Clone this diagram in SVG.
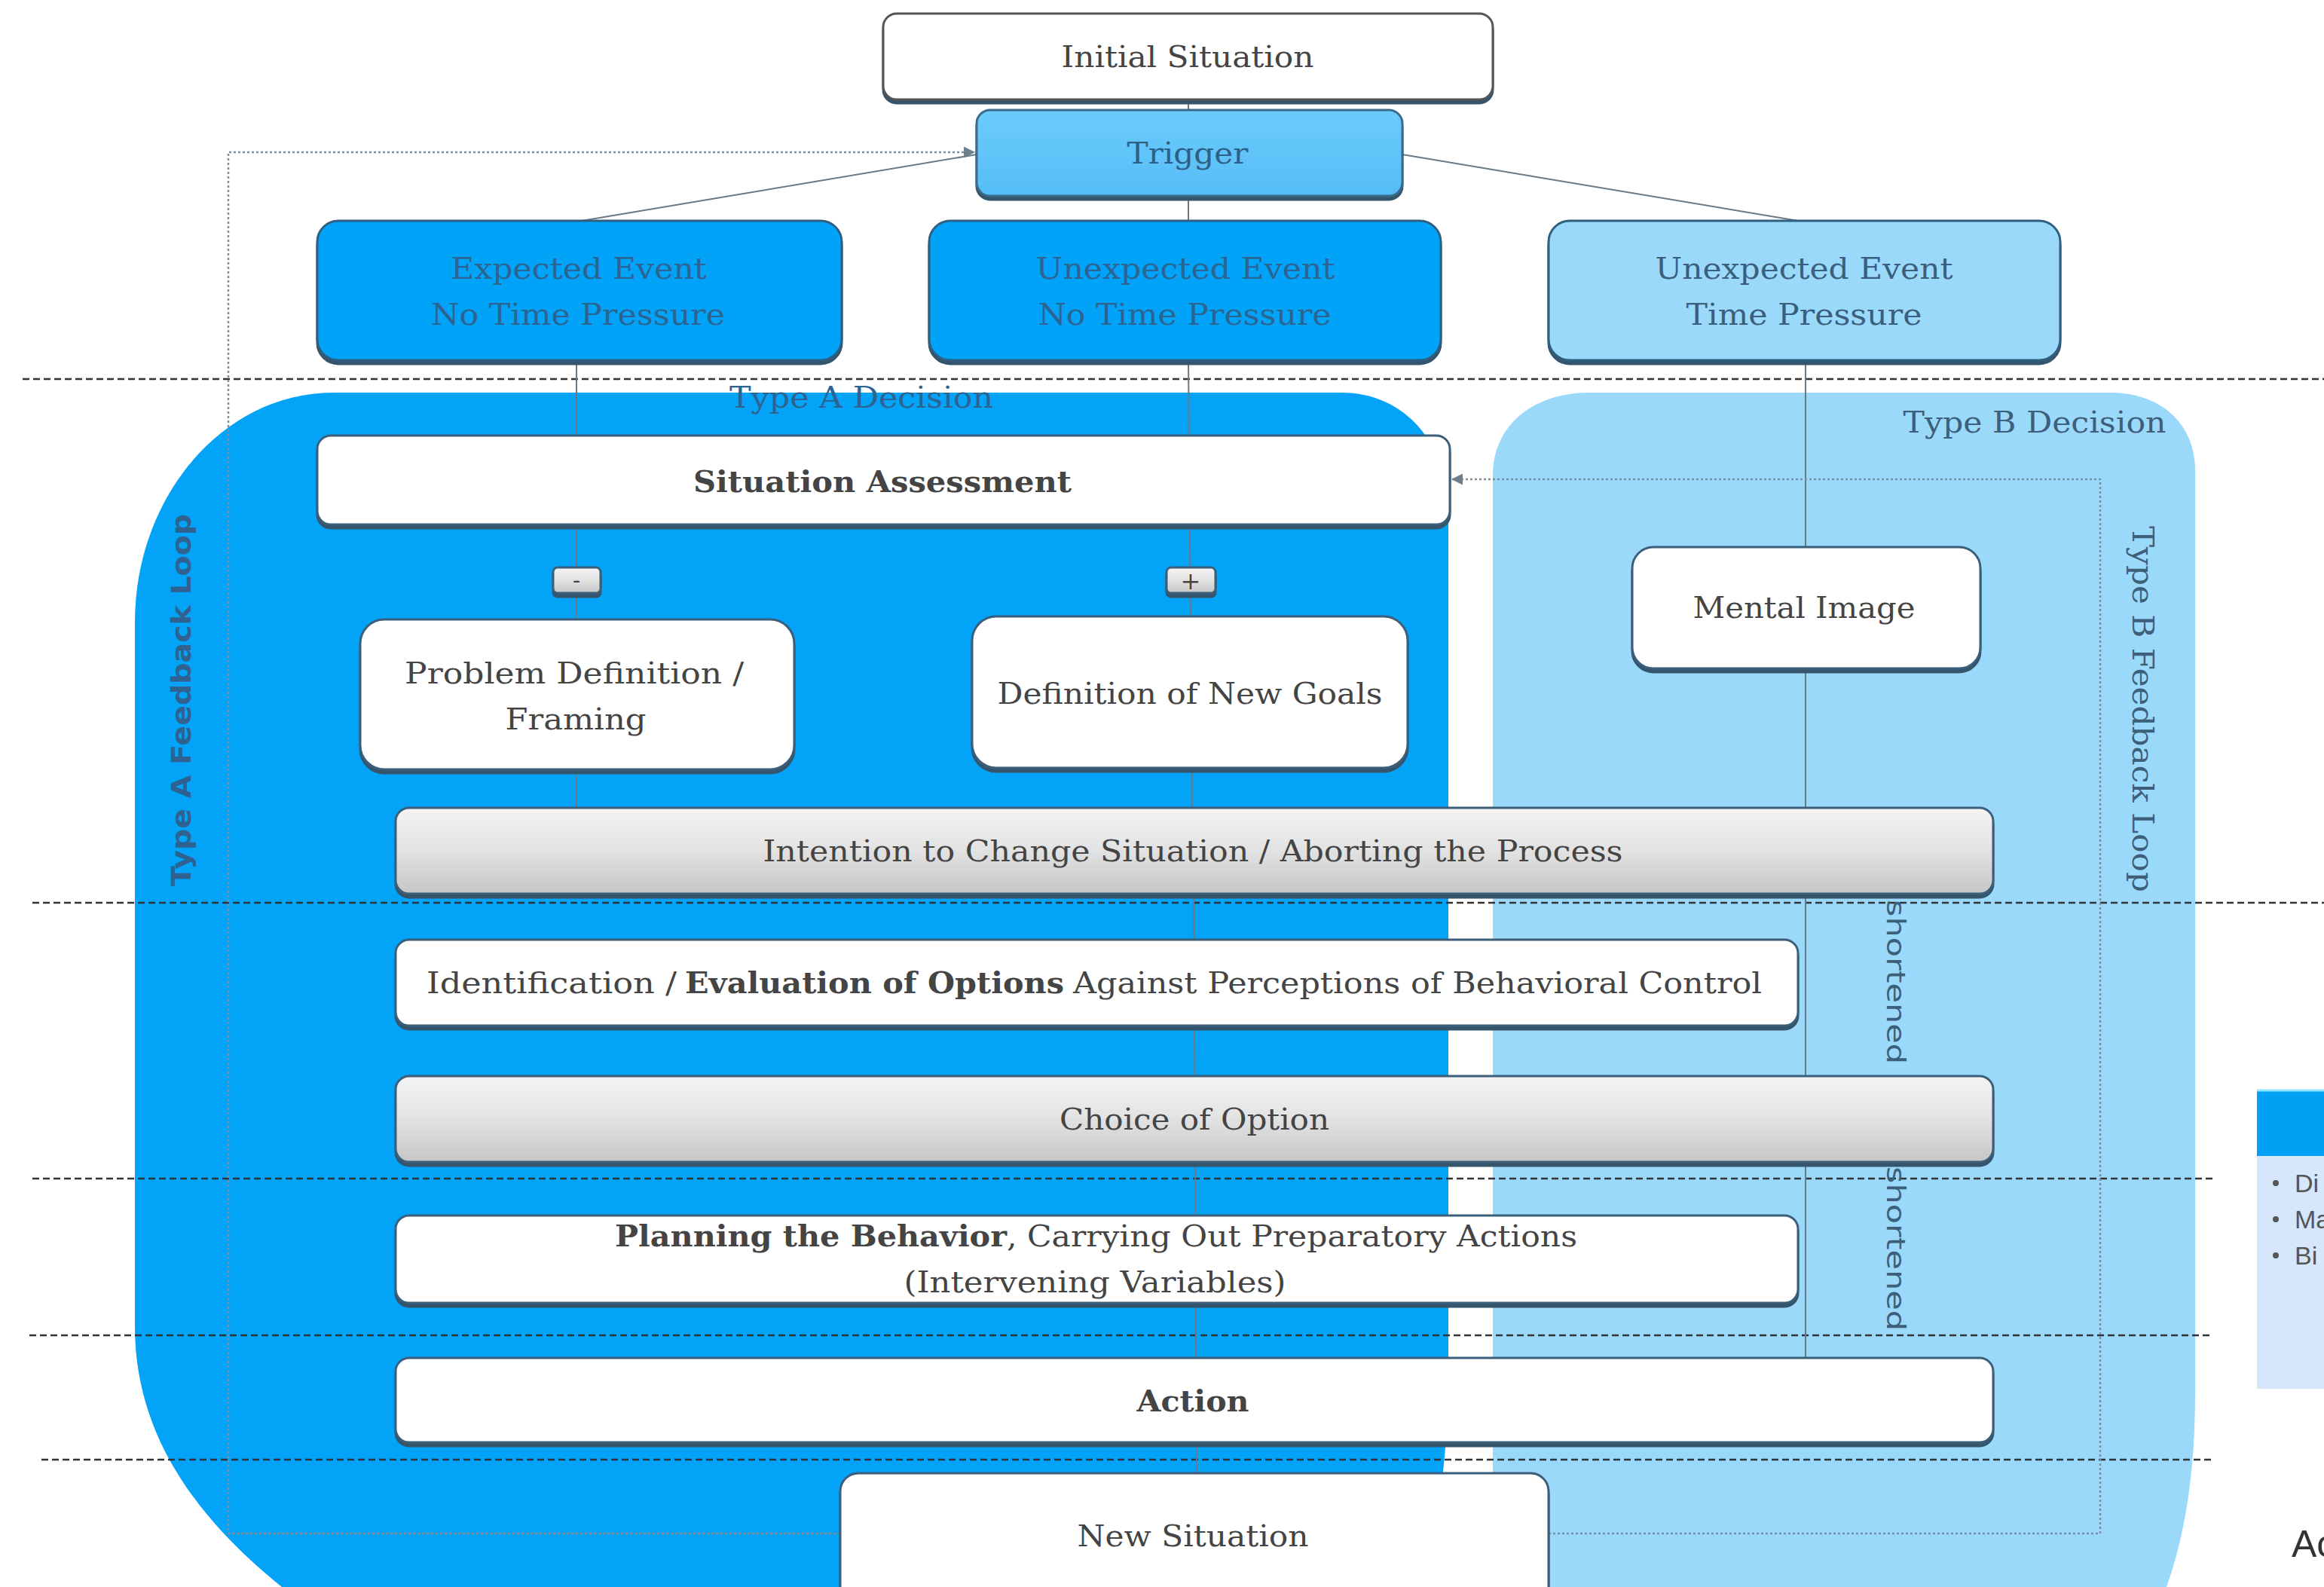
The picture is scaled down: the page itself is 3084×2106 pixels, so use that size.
<svg xmlns="http://www.w3.org/2000/svg" width="3084" height="2106" viewBox="0 0 3084 2106">
<defs>
<style>
.t{font-family:"DejaVu Serif","Liberation Serif",serif;font-size:40px;fill:#444;text-anchor:middle}
.tl{font-family:"DejaVu Serif","Liberation Serif",serif;font-size:40px;fill:#444}
.b{font-weight:bold}
.tb{fill:#2d6391}
.box{fill:#fff;stroke:#3b5f7a;stroke-width:3}
.ev{stroke:#2f5f80;stroke-width:3}
.bar{fill:url(#gray);stroke:#3b5f7a;stroke-width:3}
.con{stroke:#687a87;stroke-width:2;fill:none}
.dot{stroke:#7d8f9c;stroke-width:2.5;stroke-dasharray:3 3;fill:none}
.dash{stroke:#333;stroke-width:2.5;stroke-dasharray:9 5;fill:none}
.vs{font-family:"DejaVu Sans","Liberation Sans",sans-serif;fill:#3b6488;text-anchor:middle}
.leg{font-family:"Liberation Sans",Arial,sans-serif;font-size:34px;fill:#555}
</style>
<linearGradient id="gray" x1="0" y1="0" x2="0" y2="1">
<stop offset="0" stop-color="#f4f4f4"/>
<stop offset="0.5" stop-color="#e2e2e2"/>
<stop offset="1" stop-color="#c6c6c6"/>
</linearGradient>
<linearGradient id="trig" x1="0" y1="0" x2="0" y2="1">
<stop offset="0" stop-color="#6ccbfb"/>
<stop offset="1" stop-color="#55bdf7"/>
</linearGradient>
<filter id="sh" x="-5%" y="-10%" width="110%" height="130%">
<feOffset in="SourceAlpha" dy="5" result="o"/>
<feFlood flood-color="#35546c"/>
<feComposite in2="o" operator="in" result="s"/>
<feMerge><feMergeNode in="s"/><feMergeNode in="SourceGraphic"/></feMerge>
</filter>
<marker id="arr" viewBox="0 0 10 10" refX="10" refY="5" markerWidth="6" markerHeight="6" orient="auto-start-reverse">
<path d="M0,0 L10,5 L0,10 z" fill="#6f808c"/>
</marker>
</defs>
<rect width="3084" height="2106" fill="#fff"/>

<g id="regions">
<path id="typeA-region" d="M374,2106 C255,2010 179,1900 179,1760 L179,826 C179,658 297,521 442,521 L1780,521 C1865,521 1922,590 1922,680 L1922,1820 Q1922,1980 1885,2106 Z" fill="#03a3f7"/>
<path id="typeB-region" d="M1981,2106 L1981,630 C1981,568 2030,521 2110,521 L2800,521 C2865,521 2913,560 2913,625 L2913,1850 Q2913,2000 2875,2106 Z" fill="#9bd9fb"/>
</g>

<g id="separators">
<line class="dash" x1="30" y1="503" x2="3084" y2="503"/>
<line class="dash" x1="43" y1="1198" x2="3084" y2="1198"/>
<line class="dash" x1="43" y1="1564" x2="2936" y2="1564"/>
<line class="dash" x1="39" y1="1772" x2="2936" y2="1772"/>
<line class="dash" x1="55" y1="1937" x2="2936" y2="1937"/>
</g>

<g id="connectors">
<line class="con" x1="1577" y1="132" x2="1577" y2="146"/>
<line class="con" x1="1577" y1="260" x2="1577" y2="293"/>
<line class="con" x1="1296" y1="205" x2="772" y2="293"/>
<line class="con" x1="1861" y1="205" x2="2386" y2="293"/>
<line class="con" x1="765" y1="478" x2="765" y2="1072"/>
<line class="con" x1="1577" y1="478" x2="1582" y2="1072"/>
<line class="con" x1="1584" y1="1186" x2="1588" y2="1955"/>
<line class="con" x1="2396" y1="478" x2="2396" y2="1802"/>
<polyline class="dot" points="1115,2035 303,2035 303,202 1294,202" marker-end="url(#arr)"/>
<polyline class="dot" points="2055,2035 2787,2035 2787,636 1926,636" marker-end="url(#arr)"/>
</g>

<g id="labels">
<text class="t tb" x="1143" y="541" textLength="350" lengthAdjust="spacingAndGlyphs">Type A Decision</text>
<text class="t" x="2700" y="574" style="fill:#3d5f7a" textLength="349" lengthAdjust="spacingAndGlyphs">Type B Decision</text>
<text class="vs b" font-size="36" transform="translate(253,929) rotate(-90)" style="fill:#2f6290" textLength="494" lengthAdjust="spacingAndGlyphs">Type A Feedback Loop</text>
<text class="t" transform="translate(2830,941) rotate(90)" style="fill:#3d5f7a" textLength="486" lengthAdjust="spacingAndGlyphs">Type B Feedback Loop</text>
<text class="vs" font-size="34" transform="translate(2504,1303) rotate(90)" style="fill:#3c5f7a" textLength="218" lengthAdjust="spacingAndGlyphs">shortened</text>
<text class="vs" font-size="34" transform="translate(2504,1657) rotate(90)" style="fill:#3c5f7a" textLength="218" lengthAdjust="spacingAndGlyphs">shortened</text>
</g>

<g id="initial-situation">
<rect x="1172" y="18" width="809" height="114" rx="18" fill="#fff" stroke="#555" stroke-width="3" filter="url(#sh)"/>
<text class="t" x="1576" y="89" textLength="335" lengthAdjust="spacingAndGlyphs">Initial Situation</text>
</g>

<g id="trigger">
<rect x="1296" y="146" width="565" height="114" rx="18" fill="url(#trig)" stroke="#3b6a8a" stroke-width="3" filter="url(#sh)"/>
<text class="t" x="1576" y="217" style="fill:#2e5f86" textLength="161" lengthAdjust="spacingAndGlyphs">Trigger</text>
</g>

<g id="expected-event">
<rect class="ev" x="421" y="293" width="696" height="185" rx="28" fill="#03a3f7" filter="url(#sh)"/>
<text class="t tb" x="768" y="370" textLength="340" lengthAdjust="spacingAndGlyphs">Expected Event</text>
<text class="t tb" x="767" y="431" textLength="390" lengthAdjust="spacingAndGlyphs">No Time Pressure</text>
</g>

<g id="unexpected-no-pressure">
<rect class="ev" x="1233" y="293" width="679" height="185" rx="28" fill="#03a3f7" filter="url(#sh)"/>
<text class="t tb" x="1573" y="370" textLength="397" lengthAdjust="spacingAndGlyphs">Unexpected Event</text>
<text class="t tb" x="1572" y="431" textLength="389" lengthAdjust="spacingAndGlyphs">No Time Pressure</text>
</g>

<g id="unexpected-pressure">
<rect class="ev" x="2055" y="293" width="679" height="185" rx="28" fill="#9bd9fb" filter="url(#sh)"/>
<text class="t" x="2394" y="370" style="fill:#3a5f7c" textLength="395" lengthAdjust="spacingAndGlyphs">Unexpected Event</text>
<text class="t" x="2394" y="431" style="fill:#3a5f7c" textLength="313" lengthAdjust="spacingAndGlyphs">Time Pressure</text>
</g>

<g id="situation-assessment">
<rect class="box" x="421" y="578" width="1503" height="118" rx="18" filter="url(#sh)"/>
<text class="t b" x="1171" y="653" textLength="502" lengthAdjust="spacingAndGlyphs">Situation Assessment</text>
</g>

<g id="minus">
<rect class="bar" x="734" y="753" width="63" height="34" rx="6" filter="url(#sh)"/>
<text class="t" x="765" y="780" style="font-size:30px">-</text>
</g>

<g id="plus">
<rect class="bar" x="1548" y="753" width="65" height="34" rx="6" filter="url(#sh)"/>
<text class="t" x="1580" y="782" style="font-size:32px">+</text>
</g>

<g id="problem-definition">
<rect class="box" x="478" y="822" width="576" height="199" rx="32" filter="url(#sh)"/>
<text class="t" x="762" y="907" textLength="450" lengthAdjust="spacingAndGlyphs">Problem Definition /</text>
<text class="t" x="764" y="968" textLength="187" lengthAdjust="spacingAndGlyphs">Framing</text>
</g>

<g id="new-goals">
<rect class="box" x="1290" y="818" width="578" height="201" rx="32" filter="url(#sh)"/>
<text class="t" x="1579" y="934" textLength="511" lengthAdjust="spacingAndGlyphs">Definition of New Goals</text>
</g>

<g id="mental-image">
<rect class="box" x="2166" y="726" width="462" height="161" rx="28" filter="url(#sh)"/>
<text class="t" x="2394" y="820" textLength="295" lengthAdjust="spacingAndGlyphs">Mental Image</text>
</g>

<g id="intention">
<rect class="bar" x="525" y="1072" width="2120" height="114" rx="18" filter="url(#sh)"/>
<text class="t" x="1583" y="1143" textLength="1141" lengthAdjust="spacingAndGlyphs">Intention to Change Situation / Aborting the Process</text>
</g>

<g id="identification">
<rect class="box" x="525" y="1247" width="1861" height="114" rx="18" filter="url(#sh)"/>
<text class="tl" y="1318"><tspan x="566" textLength="332" lengthAdjust="spacingAndGlyphs">Identification /</tspan><tspan class="b" x="909" textLength="503" lengthAdjust="spacingAndGlyphs">Evaluation of Options</tspan><tspan x="1424" textLength="914" lengthAdjust="spacingAndGlyphs">Against Perceptions of Behavioral Control</tspan></text>
</g>

<g id="choice">
<rect class="bar" x="525" y="1428" width="2120" height="114" rx="18" filter="url(#sh)"/>
<text class="t" x="1585" y="1499" textLength="358" lengthAdjust="spacingAndGlyphs">Choice of Option</text>
</g>

<g id="planning">
<rect class="box" x="525" y="1613" width="1861" height="116" rx="18" filter="url(#sh)"/>
<text class="tl" y="1654"><tspan class="b" x="816" textLength="520" lengthAdjust="spacingAndGlyphs">Planning the Behavior</tspan><tspan x="1336" textLength="757" lengthAdjust="spacingAndGlyphs">, Carrying Out Preparatory Actions</tspan></text>
<text class="t" x="1453" y="1715" textLength="507" lengthAdjust="spacingAndGlyphs">(Intervening Variables)</text>
</g>

<g id="action">
<rect class="box" x="525" y="1802" width="2120" height="112" rx="18" filter="url(#sh)"/>
<text class="t b" x="1583" y="1873" textLength="149" lengthAdjust="spacingAndGlyphs">Action</text>
</g>

<g id="new-situation">
<rect class="box" x="1115" y="1955" width="940" height="200" rx="24" filter="url(#sh)"/>
<text class="t" x="1583" y="2052" textLength="307" lengthAdjust="spacingAndGlyphs">New Situation</text>
</g>

<g id="legend">
<rect x="2995" y="1534" width="100" height="309" fill="#d6e6fb"/>
<rect x="2995" y="1446" width="100" height="88" fill="#02a0f4"/>
<line x1="2995" y1="1447" x2="3084" y2="1447" stroke="#8ee6ff" stroke-width="3"/>
<circle cx="3020" cy="1570" r="4" fill="#555"/>
<circle cx="3020" cy="1618" r="4" fill="#555"/>
<circle cx="3020" cy="1666" r="4" fill="#555"/>
<text class="leg" x="3045" y="1582">Di</text>
<text class="leg" x="3045" y="1630">Ma</text>
<text class="leg" x="3045" y="1678">Bi</text>
<text class="leg" x="3041" y="2066" style="font-size:50px;fill:#333">Ac</text>
</g>
</svg>
